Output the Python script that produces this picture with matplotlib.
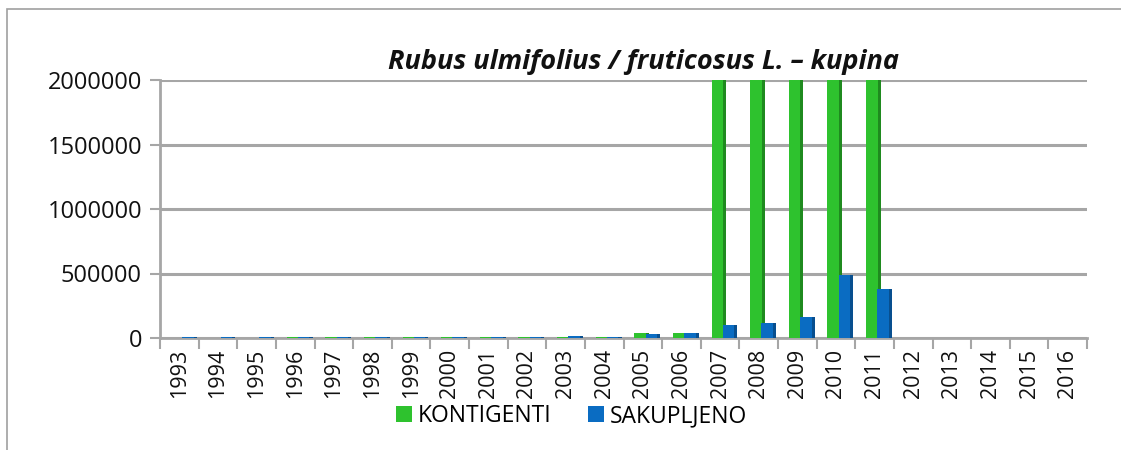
import numpy as np
import matplotlib
matplotlib.use("Agg")
import matplotlib.pyplot as plt
from matplotlib.patches import Rectangle

# --- data ---
years = [str(y) for y in range(1993, 2017)]
kontigenti = [0, 0, 0, 8000, 8000, 8000, 8000, 8000, 8000, 8000, 8000, 8000,
              40000, 40000, 2000000, 2000000, 2000000, 2000000, 2000000,
              0, 0, 0, 0, 0]
sakupljeno = [5000, 5000, 5000, 6000, 6000, 6000, 6000, 6000, 4000, 6000, 15000, 4000,
              32000, 38000, 100000, 120000, 160000, 490000, 380000,
              0, 0, 0, 0, 0]

GREEN = "#2ec22e"
GREEN_SIDE = "#1f8a1f"
BLUE = "#0a6cc2"
BLUE_SIDE = "#084f8f"
GRID = "#a6a6a6"

plt.rcParams["font.family"] = ["Open Sans", "DejaVu Sans"]

fig = plt.figure(figsize=(11.21, 4.5), dpi=100)
# chart border
fig.patches.append(Rectangle((7 / 1121, -0.01), 1.1, 1 - 9 / 450 + 0.01, transform=fig.transFigure,
                             fill=False, edgecolor="#a0a0a0", lw=1.2))

ax = fig.add_axes([160 / 1121, 1 - 338 / 450, 927 / 1121, 258 / 450])
x = np.arange(len(years))
w = 0.30
side = 0.08

# green series (front + side face)
ax.bar(x - 0.07 + w / 2 + side / 2, kontigenti, width=side, color=GREEN_SIDE, zorder=3)
ax.bar(x - 0.07, kontigenti, width=w, color=GREEN, zorder=3, label="KONTIGENTI")
# blue series
ax.bar(x + 0.22 + w / 2 + side / 2, sakupljeno, width=side, color=BLUE_SIDE, zorder=4)
ax.bar(x + 0.22, sakupljeno, width=w, color=BLUE, zorder=4, label="SAKUPLJENO")

ax.set_xlim(-0.5, len(years) - 0.5)
ax.set_ylim(0, 2000000)
ax.set_yticks([0, 500000, 1000000, 1500000, 2000000])
ax.set_yticklabels(["0", "500000", "1000000", "1500000", "2000000"])
ax.yaxis.grid(True, color=GRID, lw=2.2, zorder=0)
ax.set_axisbelow(True)

ax.set_xticks(x)
ax.set_xticklabels(years, rotation=90)
ax.set_xticks(np.arange(-0.5, len(years)), minor=True)
ax.tick_params(axis="x", which="major", length=0, pad=8, labelsize=15.5, colors="#111111")
ax.tick_params(axis="x", which="minor", length=8, width=1.5, color=GRID)
ax.tick_params(axis="y", length=7, width=1.5, color=GRID, pad=6, labelsize=17, labelcolor="#111111")

for s in ["top", "right"]:
    ax.spines[s].set_visible(False)
for s in ["left", "bottom"]:
    ax.spines[s].set_color(GRID)
    ax.spines[s].set_linewidth(2)

fig.text(0.574, 1 - 62 / 450, "Rubus ulmifolius / fruticosus L. \u2013 kupina",
         ha="center", va="center", fontsize=19.5, fontweight="bold", fontstyle="italic",
         color="#111111")

handles, labels = ax.get_legend_handles_labels()
fig.legend(handles, labels, loc="center", bbox_to_anchor=(0.51, 1 - 416 / 450), ncol=2,
           frameon=False, fontsize=16.5, handlelength=0.7, handleheight=0.7,
           handletextpad=0.25, columnspacing=1.6)

fig.savefig("out.png", dpi=100, facecolor="white")
